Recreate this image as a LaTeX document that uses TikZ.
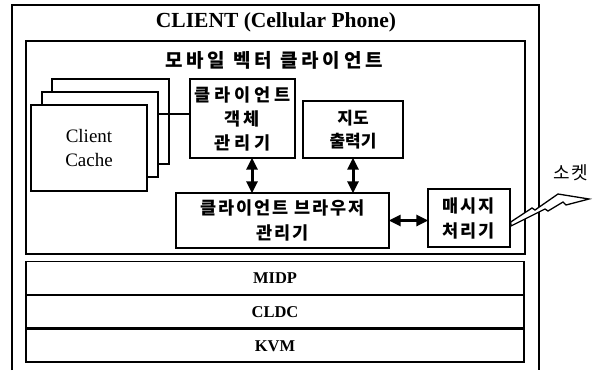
\documentclass[tikz,border=0pt]{standalone}
\usepackage{fontspec}
\setmainfont{Liberation Serif}
\newfontfamily\krHead{Noto Sans CJK KR}[LetterSpace=20]
\newfontfamily\krObj{Noto Sans CJK KR}[LetterSpace=23]
\newfontfamily\krMsg{Noto Sans CJK KR}[LetterSpace=11]
\newfontfamily\krBrw{Noto Sans CJK KR}[LetterSpace=11]
\newfontfamily\krSock{Noto Sans CJK KR}[LetterSpace=10]
\newfontfamily\krR{Noto Sans CJK KR}
\usetikzlibrary{arrows.meta}
\begin{document}
\begin{tikzpicture}[x=1pt,y=-1pt,
  box/.style={draw, line width=1.4pt, fill=white, inner sep=0pt, align=center},
  layer/.style={draw, line width=1.4pt, inner sep=0pt, minimum width=498pt, minimum height=32.5pt,
    font=\fontsize{16.5}{16.5}\selectfont\bfseries},
  dbl/.style={line width=3pt, {Triangle[width=11pt,length=12pt]}-{Triangle[width=11pt,length=12pt]}, shorten <=-1pt, shorten >=-1pt}
]
\useasboundingbox (0,0) rectangle (597,370);
% outer client frame (open at the bottom)
\draw[line width=1.3pt] (12,370) -- (12,5) -- (539,5) -- (539,370);
\node[font=\fontsize{21.5}{21.5}\selectfont\bfseries] (title) at (276,22) {CLIENT (Cellular Phone)};
% mobile vector client box
\node[draw, line width=2.6pt, inner sep=0pt, minimum width=499pt, minimum height=213pt] (mvc) at (275.5,147.5) {};
\node[font=\krHead\bfseries\fontsize{19}{19}\selectfont] (head) at (274,60) {모바일 벡터 클라이언트};
% client cache stack
\node[box, minimum width=117pt, minimum height=85pt] (cback) at (110.5,121.5) {};
\node[box, minimum width=116pt, minimum height=85pt] (cmid) at (100,134.5) {};
\node[box, minimum width=116pt, minimum height=86pt, font=\fontsize{19}{24.5}\selectfont] (cache) at (89,148) {Client\\Cache};
% managers
\node[box, minimum width=105pt, minimum height=79pt, font=\krObj\bfseries\fontsize{17.5}{24}\selectfont] (obj) at (242.5,118.5) {클라이언트\\객\hspace{3pt}체\\관리기};
\node[box, minimum width=100pt, minimum height=57pt, font=\krR\bfseries\fontsize{17}{23.5}\selectfont] (map) at (353,129.5) {지도\\출력기};
\node[box, minimum width=213pt, minimum height=55pt, font=\krBrw\bfseries\fontsize{17.5}{25}\selectfont] (brw) at (282.5,220.5) {클라이언트 브라우저\\관리기};
\node[box, minimum width=82pt, minimum height=58pt, font=\krMsg\bfseries\fontsize{17.5}{25}\selectfont] (msg) at (469,218) {매시지\\처리기};
% connectors
\draw[line width=1.4pt] ([yshift=20.5pt]cmid.east) -- ([yshift=20.5pt]cmid.east -| obj.west);
\draw[dbl] ([xshift=9.5pt]obj.south) -- ([xshift=9.5pt]obj.south |- brw.north);
\draw[dbl] (map.south) -- (map.south |- brw.north);
\draw[dbl] (brw.east) -- (brw.east -| msg.west);
% socket lightning
\coordinate (s0) at ([yshift=-4pt]msg.east);
\draw[line width=1.3pt, fill=white, line join=miter] (s0) -- (532,208) -- (535,210) -- (558,194) -- (589,199) -- (566,205) -- (563,202) -- (548,211) -- (545,209) -- (511,226) -- cycle;
\node[font=\krSock\fontsize{18}{18}\selectfont] (sock) at (571,173) {소켓};
% platform layers
\node[layer] (midp) at (275,278) {MIDP};
\node[layer, anchor=north] (cldc) at (midp.south) {CLDC};
\node[layer, anchor=north] (kvm) at (cldc.south) {KVM};
\end{tikzpicture}
\end{document}
